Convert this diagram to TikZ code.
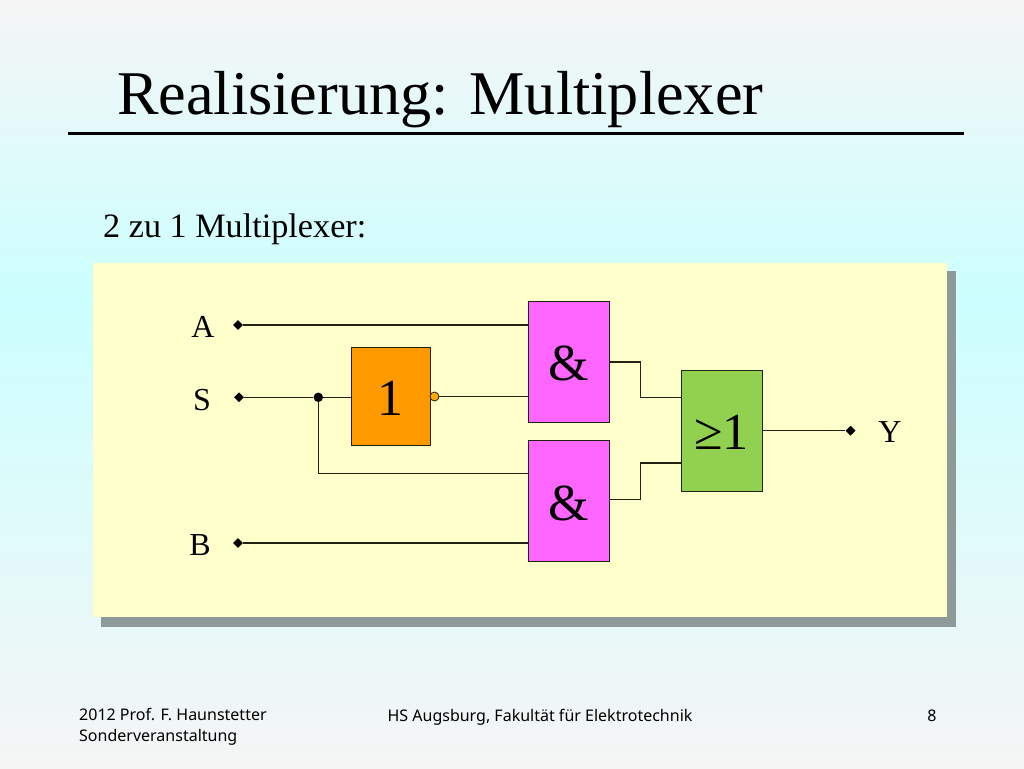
\documentclass[tikz,border=0pt]{standalone}
\usepackage{fontspec}
\setmainfont{Liberation Serif}
\newfontfamily\footfont{Noto Sans}
\usetikzlibrary{shapes.geometric}
\definecolor{bgedge}{HTML}{F5F5F5}
\definecolor{bgmid}{HTML}{CCFFFF}
\definecolor{panelc}{HTML}{FFFFCC}
\definecolor{shadowc}{HTML}{8E9A9A}
\definecolor{orangec}{HTML}{FF9900}
\definecolor{pinkc}{HTML}{FF66FF}
\definecolor{greenc}{HTML}{92D050}
\definecolor{linec}{HTML}{222211}
\newcommand{\gatetext}[1]{\raisebox{-19pt}[0pt][0pt]{#1}}
\tikzset{
  x=1pt,y=-1pt,
  gatebox/.style={draw=linec,line width=1pt,inner sep=0pt,anchor=center,font=\fontsize{52}{52}\selectfont},
  andgate/.style={gatebox,fill=pinkc,minimum width=81pt,minimum height=121pt},
  wire/.style={draw=linec,line width=1.15pt},
  terminal/.style={diamond,fill=black,inner sep=0pt,minimum size=10pt},
  junction/.style={circle,fill=black,inner sep=0pt,minimum size=9.5pt},
  bubble/.style={circle,draw=linec,fill=orangec!85!yellow,line width=0.8pt,inner sep=0pt,minimum size=9pt},
  siglabel/.style={inner sep=0pt,font=\fontsize{32}{32}\selectfont},
  foot/.style={inner sep=0pt,font=\footfont\fontsize{16}{21}\selectfont,align=left}
}
\begin{document}
\begin{tikzpicture}
\useasboundingbox (0,0) rectangle (1024,768);
\shade[top color=bgedge,bottom color=bgmid] (0,0) rectangle (1024,300);
\shade[top color=bgmid,bottom color=bgedge] (0,299.5) rectangle (1024,768);
% title
\node[anchor=base west,inner sep=0pt,font=\fontsize{62.2}{62}\selectfont] (title) at (117,114) {Realisierung: Multiplexer};
\fill[black] (68,131.5) rectangle (964,134.5);
\node[anchor=base west,inner sep=0pt,font=\fontsize{34.2}{34}\selectfont] (sub) at (103,237) {2 zu 1 Multiplexer:};
% panel
\fill[shadowc] (101,271) rectangle (956,627);
\fill[panelc] (93,263) rectangle (947,617);
% gates
\node[gatebox,fill=orangec,minimum width=79pt,minimum height=98pt] (inv) at (390.7,396) {\gatetext{1}};
\node[andgate] (and1) at (568.5,361.5) {\gatetext{\&}};
\node[andgate] (and2) at (568.5,501) {\gatetext{\&}};
\node[andgate,fill=greenc] (or) at (721.5,430.5) {\gatetext{≥1}};
% terminals
\node[terminal] (inA) at (238,325) {};
\node[terminal] (inS) at (239,397.3) {};
\node[terminal] (inB) at (238,543) {};
\node[terminal] (outY) at (850.6,430.7) {};
\node[junction] (dot) at (318.3,397.3) {};
\node[bubble] (neg) at (434.5,396.5) {};
% wires
\draw[wire] (inA) -- (inA -| and1.west);
\draw[wire] (inS) -- (dot) -- (dot -| inv.west);
\draw[wire] (neg) -- (neg -| and1.west);
\coordinate (branch) at (318.3,473.3);
\draw[wire] (dot) -- (branch) -- (branch -| and2.west);
\draw[wire] (inB) -- (inB -| and2.west);
\coordinate (o1a) at (640.8,362);
\coordinate (o1b) at (640.8,397.7);
\coordinate (o2a) at (640.8,499.3);
\coordinate (o2b) at (640.8,463);
\draw[wire] (o1a -| and1.east) -- (o1a) -- (o1b) -- (o1b -| or.west);
\draw[wire] (o2a -| and2.east) -- (o2a) -- (o2b) -- (o2b -| or.west);
\draw[wire] (outY -| or.east) -- (outY);
% labels
\node[siglabel] (lA) at (203,327) {A};
\node[siglabel] (lS) at (202,400) {S};
\node[siglabel] (lB) at (200,545) {B};
\node[siglabel] (lY) at (890,432) {Y};
% footer
\node[foot,anchor=north west] (f1) at (79,708) {2012 Prof. F. Haunstetter\\Sonderveranstaltung};
\node[foot,anchor=base] (f2) at (540,721) {HS Augsburg, Fakultät für Elektrotechnik};
\node[foot,anchor=base] (f3) at (932,721) {8};
\end{tikzpicture}
\end{document}
